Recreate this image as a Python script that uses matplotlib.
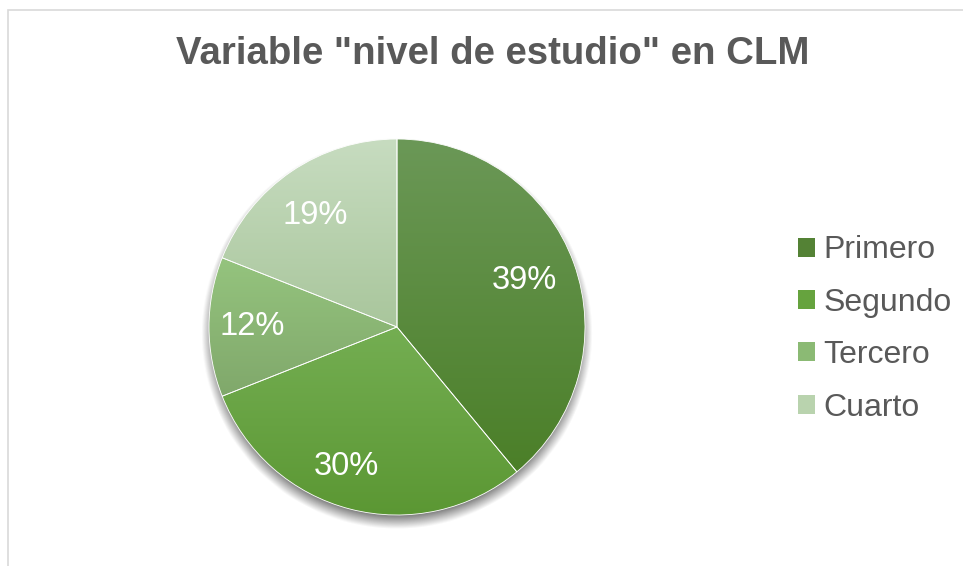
import numpy as np
import matplotlib.pyplot as plt
from matplotlib.patches import Patch, Rectangle
from matplotlib.colors import to_rgb

plt.rcParams['font.family'] = ['Liberation Sans', 'DejaVu Sans']

title = 'Variable "nivel de estudio" en CLM'
categories = ['Primero', 'Segundo', 'Tercero', 'Cuarto']
shares = [39, 30, 12, 19]
# gradient end colours per slice (top, bottom)
tops = ['#6b9857', '#74ae52', '#95c47e', '#c7dcc0']
bottoms = ['#4b7f28', '#5b9733', '#80a86b', '#a9c69c']
mids = ['#548235', '#66a33e', '#8bba74', '#b9d3ae']
# "best fit" placement of the percentage labels: radius and angular nudge
label_r = [0.73, 0.77, 0.77, 0.75]
label_nudge = [1.7, -6.2, -1.6, 1.3]

W, H = 963, 566
fig = plt.figure(figsize=(W / 100, H / 100), dpi=100)

# chart area border (top and left edges visible)
fig.patches.append(Rectangle((8 / W, -0.1), 1.2, (H - 10) / H + 0.1,
                             transform=fig.transFigure, fill=False,
                             edgecolor='#d9d9d9', linewidth=1.2))

fig.text(493 / W, 1 - 54 / H, title, ha='center', va='center',
         fontsize=27.6, fontweight='bold', color='#595959')

# pie axes: centre (397, 327) px, radius 188 px
cx, cy, R = 397, 327, 188
lim = 1.1
side = 2 * lim * R
ax = fig.add_axes([(cx - side / 2) / W, (H - cy - side / 2) / H, side / W, side / H])
ax.set_xlim(-lim, lim)
ax.set_ylim(-lim, lim)
ax.set_aspect('equal')
ax.axis('off')

# soft drop shadow under the pie
g = np.linspace(-lim, lim, 400)
X, Y = np.meshgrid(g, g)
r = np.hypot(X, Y + 0.035)
alpha = np.clip((1.04 - r) / 0.08, 0, 1) * 0.75
shadow = np.zeros((400, 400, 4))
shadow[..., :3] = 0.25
shadow[..., 3] = alpha
ax.imshow(shadow, extent=(-lim, lim, -lim, lim), origin='lower', zorder=0)

wedges, texts = ax.pie(shares, colors=mids, startangle=90, counterclock=False,
                       radius=1, labels=[f'{v}%' for v in shares],
                       textprops=dict(color='white', fontsize=23.5, ha='center',
                                      va='center_baseline'),
                       wedgeprops=dict(linewidth=0.6, edgecolor='white'))

for w, tx, lr, dn in zip(wedges, texts, label_r, label_nudge):
    ang = np.deg2rad((w.theta1 + w.theta2) / 2 + dn)
    tx.set_position((lr * np.cos(ang), lr * np.sin(ang)))
    tx.set_zorder(3)

# vertical gradient inside each slice, spanning the slice's own height
for w, top, bot in zip(wedges, tops, bottoms):
    verts = w.get_path().vertices
    ext = w.get_patch_transform().transform(verts)
    y0, y1 = ext[:, 1].min(), ext[:, 1].max()
    t = np.linspace(0, 1, 256)[:, None]
    c0, c1 = np.array(to_rgb(bot)), np.array(to_rgb(top))
    img = (c0 + (c1 - c0) * t)[:, None, :].repeat(2, axis=1)
    im = ax.imshow(img, extent=(-1, 1, y0, y1), origin='lower',
                   aspect='auto', zorder=1)
    im.set_clip_path(w)
    w.set_facecolor('none')
    w.set_zorder(2)
ax.set_xlim(-lim, lim)
ax.set_ylim(-lim, lim)

handles = [Patch(facecolor=c, edgecolor='none') for c in mids]
fig.legend(handles, categories, loc='center left',
           bbox_to_anchor=(798 / W, 1 - 329 / H), frameon=False,
           fontsize=23, labelcolor='#595959', handlelength=0.54,
           handleheight=0.54, handletextpad=0.25, labelspacing=0.7,
           borderpad=0, borderaxespad=0)

fig.savefig('out.png', dpi=100)
